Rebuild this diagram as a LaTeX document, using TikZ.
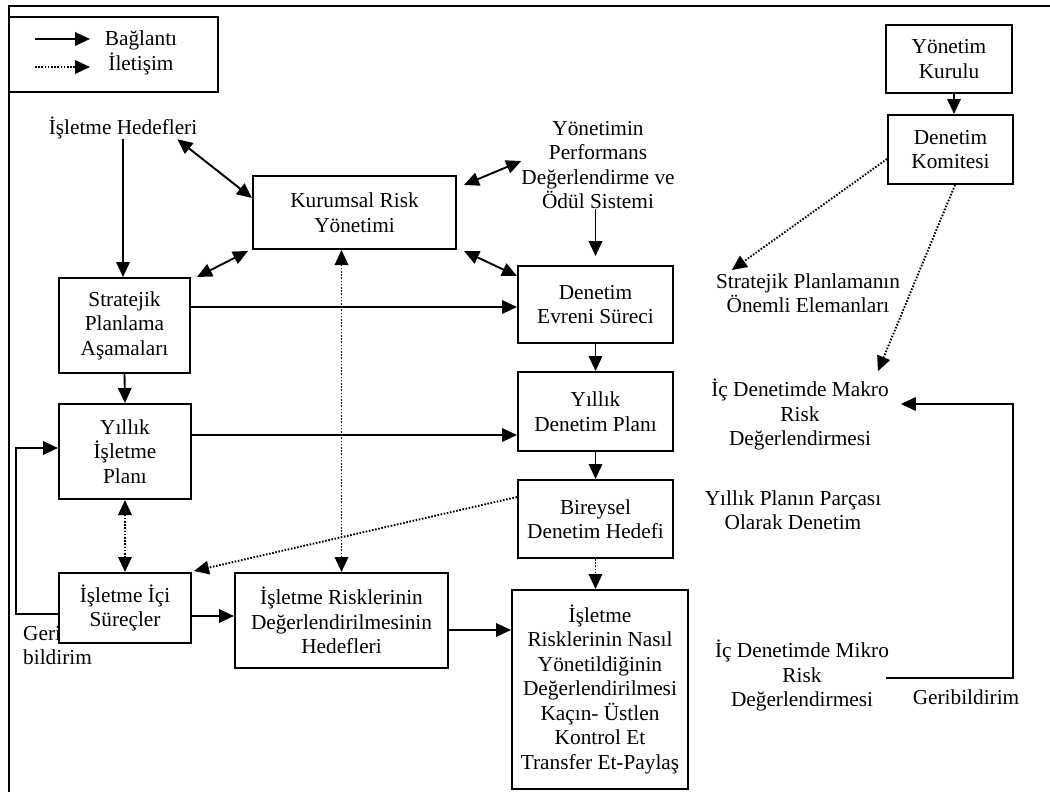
\documentclass[tikz,border=0pt]{standalone}
\usepackage{fontspec}
\setmainfont{Liberation Serif}
\usetikzlibrary{arrows.meta,calc}
\begin{document}
\begin{tikzpicture}[x=1pt,y=-1pt,
  every node/.style={font=\fontsize{21.3}{24.5}\selectfont, inner sep=0pt},
  box/.style={draw, line width=2pt, fill=white, align=center},
  lbl/.style={align=center},
  tip/.style={Triangle[length=15pt,width=13.5pt]},
  link/.style={line width=1.9pt, -{Triangle[length=15pt,width=13.5pt]}},
  both/.style={line width=1.9pt, {Triangle[length=15pt,width=13.5pt]}-{Triangle[length=15pt,width=13.5pt]}},
  comm/.style={link, dash pattern=on 1.6pt off 1.6pt},
  commboth/.style={both, dash pattern=on 1.6pt off 1.6pt},
]
\useasboundingbox (0,0) rectangle (1050,792);

% outer frame (top and left edges)
\draw[line width=2pt] (9,792) -- (9,6) -- (1050,6);

% legend
\node[draw, line width=2pt, minimum width=209pt, minimum height=75pt] (legend) at (113.5,54.5) {};
\node[lbl] (legtxt) at (141,53) {Bağlantı\\İletişim};
\coordinate (la1) at (35,39);
\coordinate (la2) at (90,39);
\coordinate (la3) at (35,67);
\coordinate (la4) at (90,67);
\draw[link] (la1) -- (la2);
\draw[comm] (la3) -- (la4);

% free labels
\node[lbl] (ished) at (123,128) {İşletme Hedefleri};
\node[lbl] (yps) at (598,165) {Yönetimin\\Performans\\Değerlendirme ve\\Ödül Sistemi};
\node[lbl] (spl) at (808,293) {Stratejik Planlamanın\\Önemli Elemanları};
\node[lbl] (makro) at (800,415) {İç Denetimde Makro\\Risk\\Değerlendirmesi};
\node[lbl] (ypp) at (793,510) {Yıllık Planın Parçası\\Olarak Denetim};
\node[lbl] (mikro) at (802,676) {İç Denetimde Mikro\\Risk\\Değerlendirmesi};
\node[lbl] (gbr) at (966,697) {Geribildirim};
\node[align=left, anchor=west] (gbl) at (23,645.5) {Geri\\bildirim};

% boxes
\node[box, minimum width=126pt, minimum height=68pt] (kurulu) at (949,59) {Yönetim\\Kurulu};
\node[box, minimum width=125pt, minimum height=69pt] (komite) at (950.5,149.5) {Denetim\\Komitesi};
\node[box, minimum width=203pt, minimum height=73pt] (krm) at (354.5,212.5) {Kurumsal Risk\\Yönetimi};
\node[box, minimum width=131pt, minimum height=95pt] (strat) at (124.5,325.5) {Stratejik\\Planlama\\Aşamaları};
\node[box, minimum width=155pt, minimum height=77pt] (evr) at (595.5,304.5) {Denetim\\Evreni Süreci};
\node[box, minimum width=155pt, minimum height=79pt] (ydp) at (595.5,411.5) {Yıllık\\Denetim Planı};
\node[box, minimum width=155pt, minimum height=78pt] (bir) at (595.5,519) {Bireysel\\Denetim Hedefi};
\node[box, minimum width=176pt, minimum height=199pt] (big) at (600,689.5) {İşletme\\Risklerinin Nasıl\\Yönetildiğinin\\Değerlendirilmesi\\Kaçın- Üstlen\\Kontrol Et\\Transfer Et-Paylaş};
\node[box, minimum width=132pt, minimum height=95pt] (yip) at (125,451.5) {Yıllık\\İşletme\\Planı};
\node[box, minimum width=132pt, minimum height=70pt] (ici) at (125,608) {İşletme İçi\\Süreçler};
\node[box, minimum width=213pt, minimum height=95pt] (irdh) at (341.5,620.5) {İşletme Risklerinin\\Değerlendirilmesinin\\Hedefleri};

% helper points on box edges
\coordinate (k1) at ([xshift=5pt]kurulu.south);
\coordinate (s1) at ($(strat.east)+(0,-18.5)$);
\coordinate (s2) at ($(yip.east)+(0,-16.5)$);
\coordinate (s3) at ($(ici.east)+(0,8)$);
\coordinate (s4) at ($(irdh.east)+(0,9.5)$);
\coordinate (f1) at ($(ici.west)+(0,6)$);
\coordinate (f2) at ($(yip.west)+(0,-3.5)$);
\coordinate (m1) at ($(mikro.east)+(-3,2)$);
\coordinate (m2) at ($(makro.east)+(12,-11)$);

% solid connections
\draw[link] (k1) -- (k1 |- komite.north);
\draw[link] (ished.south) -- (ished.south |- strat.north);
\draw[both] ($(ished.south east)+(-20,0)$) -- ($(krm.north west)+(0,23)$);
\draw[both] ($(krm.south west)+(-4,1)$) -- ($(strat.north east)+(6,0)$);
\draw[both] ($(krm.north east)+(7,10)$) -- ($(yps.west)+(0,-4)$);
\draw[both] ($(krm.south east)+(7,1)$) -- ($(evr.north west)+(0,11)$);
\draw[link] (yps.south -| evr.north) -- ($(evr.north)+(0,-9)$);
\draw[link] (s1) -- (s1 -| evr.west);
\draw[link] (strat.south) -- (yip.north);
\draw[link] (s2) -- (s2 -| ydp.west);
\draw[link] (evr.south) -- (ydp.north);
\draw[link] (ydp.south) -- (bir.north);
\draw[link] (s3) -- (s3 -| irdh.west);
\draw[link] (s4) -- (s4 -| big.west);
\draw[link] (f1) -- ++(-42,0) |- (f2);
\draw[link] (m1) -- ++(127,0) |- (m2);

% communication
\draw[comm] (bir.south) -- (bir.south |- big.north);
\draw[commboth] (irdh.north) -- (irdh.north |- krm.south);
\draw[commboth] (yip.south) -- (ici.north);
\draw[comm] ($(bir.west)+(0,-22)$) -- ($(ici.north east)+(2,-1)$);
\draw[comm] ($(komite.west)+(0,9.5)$) -- ($(spl.north west)+(16,-3)$);
\draw[comm] ($(komite.south)+(4.5,0)$) -- ($(makro.north east)+(-11,-8)$);
\end{tikzpicture}
\end{document}
